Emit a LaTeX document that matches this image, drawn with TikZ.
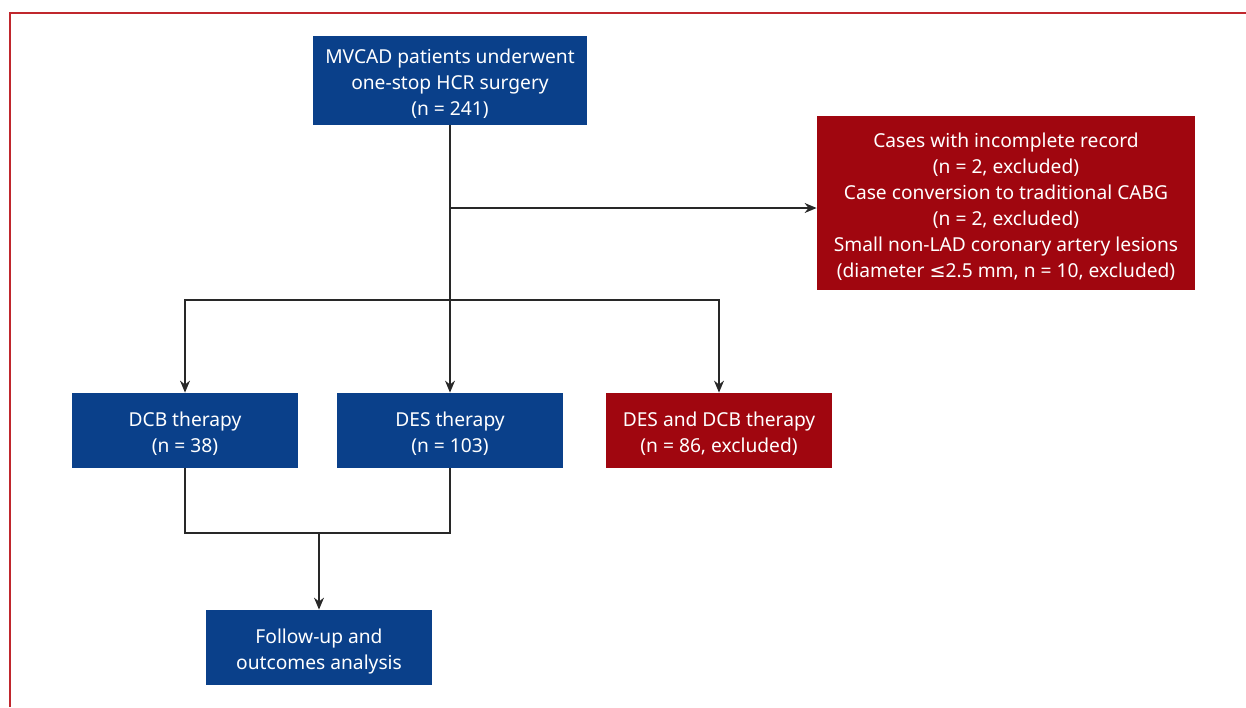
\documentclass[tikz,border=0pt]{standalone}
\usepackage{fontspec}
\setmainfont{Noto Sans}
\newfontfamily\symfont{DejaVu Sans}
\usetikzlibrary{arrows.meta}
\definecolor{boxblue}{RGB}{10,64,138}
\definecolor{boxred}{RGB}{160,6,15}
\definecolor{framered}{RGB}{192,39,45}
\definecolor{linegray}{RGB}{40,40,40}
\newcommand{\topgap}{\rule{0pt}{11pt}}
\tikzset{
  bluebox/.style={fill=boxblue,text=white,align=center,inner sep=0pt},
  redbox/.style={fill=boxred,text=white,align=center,inner sep=0pt},
  link/.style={draw=linegray,line width=0.6pt},
  arr/.style={link,-{Stealth[length=6pt,width=5pt]}}
}
\begin{document}
\begin{tikzpicture}[x=0.5pt,y=-0.5pt,font=\fontsize{9.6}{13}\selectfont]
\useasboundingbox (0,0) rectangle (1246,707);
\draw[framered,line width=1pt] (10,707)--(10,13)--(1246,13);

\node[bluebox,minimum width=137pt,minimum height=44.5pt] (start) at (450,80.5)
  {\topgap MVCAD patients underwent\\one-stop HCR surgery\\(n = 241)};
\node[redbox,minimum width=189pt,minimum height=87pt] (excl) at (1006,203)
  {\topgap Cases with incomplete record\\(n = 2, excluded)\\Case conversion to traditional CABG\\(n = 2, excluded)\\Small non-LAD coronary artery lesions\\(diameter {\symfont\char"2264}2.5 mm, n = 10, excluded)};
\node[bluebox,minimum width=113pt,minimum height=37.5pt] (dcb) at (185,430.5)
  {\topgap DCB therapy\\(n = 38)};
\node[bluebox,minimum width=113pt,minimum height=37.5pt] (des) at (450,430.5)
  {\topgap DES therapy\\(n = 103)};
\node[redbox,minimum width=113pt,minimum height=37.5pt] (both) at (719,430.5)
  {\topgap DES and DCB therapy\\(n = 86, excluded)};
\node[bluebox,minimum width=113pt,minimum height=37.5pt] (follow) at (319,647.5)
  {\topgap Follow-up and\\outcomes analysis};

\coordinate (split) at (450,208);
\coordinate (fork) at (450,300);
\coordinate (merge) at (319,533);

\draw[arr] (start.south) -- (des.north);
\draw[arr] (split) -- (excl.west |- split);
\draw[arr] (fork) -| (dcb.north);
\draw[arr] (fork) -| (both.north);
\draw[link] (dcb.south) |- (merge) -| (des.south);
\draw[arr] (merge) -- (follow.north);

\end{tikzpicture}
\end{document}
